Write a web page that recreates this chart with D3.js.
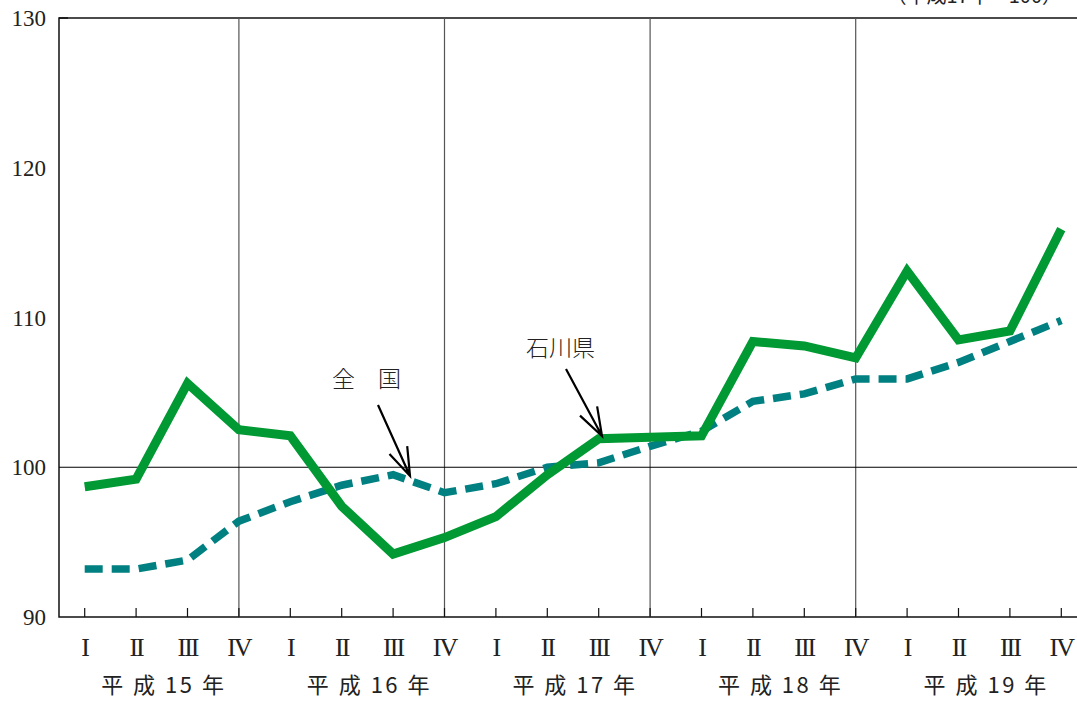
<!DOCTYPE html>
<html>
<head>
<meta charset="utf-8">
<script src="https://cdn.jsdelivr.net/npm/d3@7"></script>
<style>
  body { margin: 0; background: #fff; }
  svg { display: block; }
  .lbl { font-family: "Liberation Serif", "DejaVu Serif", serif; fill: #222; }
  .jp { font-family: "Noto Sans CJK JP", sans-serif; fill: #222; }
</style>
</head>
<body>
<div id="chart"></div>
<script>
/*global d3 */

// quarters (I..IV) for 平成15年 .. 平成19年
var quarters = ["I", "II", "III", "IV"];
var years = ["平 成 15 年", "平 成 16 年", "平 成 17 年", "平 成 18 年", "平 成 19 年"];
var yTicks = [90, 100, 110, 120, 130];

// 石川県
var ishikawa = [98.7, 99.2, 105.6, 102.5, 102.1, 97.4, 94.2, 95.3, 96.7, 99.5,
                101.9, 102.0, 102.1, 108.4, 108.1, 107.3, 113.1, 108.5, 109.1, 115.9];
// 全国
var zenkoku = [93.2, 93.2, 93.8, 96.4, 97.7, 98.8, 99.5, 98.3, 98.9, 100.0,
               100.3, 101.4, 102.4, 104.4, 104.9, 105.9, 105.9, 107.0, 108.4, 109.8];

(function () {
    "use strict";

    var W = 1077, H = 702,
        m = {left: 59, top: 18, bottom: 617, step: 51.4},
        idx = d3.range(ishikawa.length),
        svg, x, y, line;

    svg = d3.select("#chart").append("svg")
        .attr("width", W).attr("height", H);

    x = d3.scalePoint().domain(idx)
        .range([m.left, m.left + m.step * idx.length]).padding(0.5);
    y = d3.scaleLinear().domain([90, 130]).range([m.bottom, m.top]);

    //frame: top, left, bottom
    svg.append("path")
        .attr("d", "M" + W + "," + y(130) + "H" + m.left + "V" + y(90) + "H" + W)
        .attr("fill", "none").attr("stroke", "#111").attr("stroke-width", 1.5);

    //year separators at each IV
    svg.selectAll("line.sep")
        .data(idx.filter(function (i) { return i % 4 === 3 && i < 19; }))
        .enter().append("line")
        .attr("class", "sep")
        .attr("x1", function (i) { return x(i); })
        .attr("x2", function (i) { return x(i); })
        .attr("y1", y(130)).attr("y2", y(90))
        .attr("stroke", "#555").attr("stroke-width", 1.2);

    //base 100 line
    svg.append("line")
        .attr("x1", m.left).attr("x2", W)
        .attr("y1", y(100)).attr("y2", y(100))
        .attr("stroke", "#000").attr("stroke-width", 1);

    //quarter ticks
    svg.selectAll("line.tick")
        .data(idx).enter().append("line")
        .attr("class", "tick")
        .attr("x1", function (i) { return x(i); })
        .attr("x2", function (i) { return x(i); })
        .attr("y1", m.bottom - 9).attr("y2", m.bottom)
        .attr("stroke", "#111").attr("stroke-width", 1.2);

    //small inward tick at top-left
    svg.append("line")
        .attr("x1", m.left).attr("x2", m.left + 9)
        .attr("y1", y(130)).attr("y2", y(130))
        .attr("stroke", "#111").attr("stroke-width", 1.5);

    //y labels
    svg.selectAll("text.ylab")
        .data(yTicks).enter().append("text")
        .attr("class", "lbl ylab")
        .attr("x", 46).attr("y", function (d) { return y(d) + 8; })
        .attr("text-anchor", "end").attr("font-size", 23)
        .text(function (d) { return d; });

    //quarter labels
    svg.selectAll("text.qlab")
        .data(idx).enter().append("text")
        .attr("class", "lbl qlab")
        .attr("x", function (i) { return x(i); })
        .attr("y", 656)
        .attr("text-anchor", "middle").attr("font-size", 26)
        .attr("letter-spacing", -2)
        .text(function (i) { return quarters[i % 4]; });

    //year labels
    svg.selectAll("text.ylab2")
        .data(years).enter().append("text")
        .attr("class", "jp")
        .attr("x", function (d, k) { return (x(k * 4) + x(k * 4 + 3)) / 2 + 2; })
        .attr("y", 693)
        .attr("text-anchor", "middle").attr("font-size", 22)
        .attr("letter-spacing", 2.5)
        .text(function (d) { return d; });

    //unit note, cut at top as in the source
    svg.append("text")
        .attr("class", "jp")
        .attr("x", 1062).attr("y", 3)
        .attr("text-anchor", "end").attr("font-size", 20)
        .text("（平成17年＝100）");

    line = d3.line()
        .x(function (d, i) { return x(i); })
        .y(function (d) { return y(d); });

    svg.append("path")
        .datum(zenkoku)
        .attr("d", line)
        .attr("fill", "none").attr("stroke", "#008080")
        .attr("stroke-width", 7.5)
        .attr("stroke-dasharray", "18,9");

    svg.append("path")
        .datum(ishikawa)
        .attr("d", line)
        .attr("fill", "none").attr("stroke", "#009933")
        .attr("stroke-width", 9)
        .attr("stroke-linejoin", "miter");

    //annotations with open arrows
    function arrow(x1, y1, x2, y2) {
        var a = Math.atan2(y2 - y1, x2 - x1), len = 30, sp = 0.33;
        svg.append("path")
            .attr("d", "M" + x1 + "," + y1 + "L" + x2 + "," + y2 +
                  "M" + (x2 - len * Math.cos(a - sp)) + "," + (y2 - len * Math.sin(a - sp)) +
                  "L" + x2 + "," + y2 +
                  "L" + (x2 - len * Math.cos(a + sp)) + "," + (y2 - len * Math.sin(a + sp)))
            .attr("fill", "none").attr("stroke", "#000").attr("stroke-width", 2.2);
    }

    svg.append("text").attr("class", "jp")
        .attr("x", 332).attr("y", 387).attr("font-size", 23)
        .attr("font-weight", 300)
        .text("全　国");
    arrow(378, 405, 410, 476);

    svg.append("text").attr("class", "jp")
        .attr("x", 526).attr("y", 356).attr("font-size", 23)
        .attr("font-weight", 300)
        .text("石川県");
    arrow(566, 369, 602, 436);
}());
</script>
</body>
</html>
